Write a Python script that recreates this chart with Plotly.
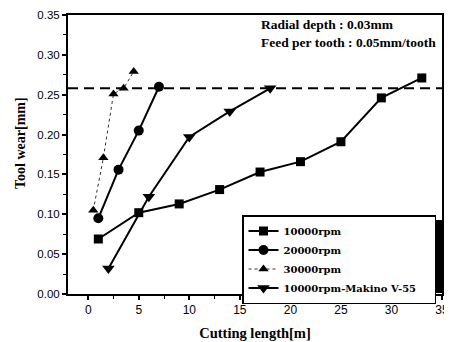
import plotly.graph_objects as go

# ---- data ----
x_10000 = [1, 5, 9, 13, 17, 21, 25, 29, 33]
y_10000 = [0.069, 0.102, 0.113, 0.131, 0.153, 0.166, 0.191, 0.246, 0.271]

x_20000 = [1, 3, 5, 7]
y_20000 = [0.095, 0.156, 0.205, 0.260]

x_30000 = [0.5, 1.5, 2.5, 3.5, 4.5]
y_30000 = [0.105, 0.171, 0.251, 0.258, 0.279]

x_makino = [2, 6, 10, 14, 18]
y_makino = [0.032, 0.122, 0.197, 0.229, 0.258]

wear_limit = 0.258

serif = "Liberation Serif"
wserif = "DejaVu Serif"
sans = "Liberation Sans"

# page body adds an 8px offset; figure is sized so that the plot area
# lands at x 68..442, y 15..294 of the window
OFF = 8
PL, PT, PW, PH = 68, 15, 374, 279


def px(x):
    return (x - PL) / PW


def py(y):
    return (PT + PH - y) / PH


fig = go.Figure()

fig.add_trace(go.Scatter(
    x=x_10000, y=y_10000, mode="lines+markers", name="<b>10000rpm</b>",
    line=dict(color="black", width=2),
    marker=dict(symbol="square", size=9, color="black")))
fig.add_trace(go.Scatter(
    x=x_20000, y=y_20000, mode="lines+markers", name="<b>20000rpm</b>",
    line=dict(color="black", width=2),
    marker=dict(symbol="circle", size=10, color="black")))
fig.add_trace(go.Scatter(
    x=x_30000, y=y_30000, mode="lines+markers", name="<b>30000rpm</b>",
    line=dict(color="#333", width=1, dash="dot"),
    marker=dict(symbol="triangle-up", size=9, color="black")))
fig.add_trace(go.Scatter(
    x=x_makino, y=y_makino, mode="lines+markers",
    name="<b>10000rpm-Makino V-55</b>&nbsp;&nbsp;&nbsp;&nbsp;",
    line=dict(color="black", width=2),
    marker=dict(symbol="triangle-down", size=11, color="black")))

# wear limit dashed line
fig.add_shape(type="line", xref="paper", x0=0, x1=1, yref="y",
              y0=wear_limit, y1=wear_limit,
              line=dict(color="black", width=2, dash="10px,6px"), layer="below")

# legend shadow
fig.add_shape(type="rect", xref="paper", yref="paper",
              x0=px(247), x1=px(442), y0=py(293), y1=py(220),
              fillcolor="black", line=dict(width=0), layer="above")

fig.add_annotation(xref="paper", yref="paper", x=px(259), y=py(34),
                   xanchor="left", yanchor="middle", showarrow=False, align="left",
                   text="<b>Radial depth : 0.03mm</b><br><b>Feed per tooth : 0.05mm/tooth</b>",
                   font=dict(family=serif, size=13.5, color="black"))

fig.add_annotation(xref="paper", yref="paper", x=0, y=py(143),
                   xshift=-48, xanchor="center", yanchor="middle",
                   showarrow=False, textangle=-90,
                   text="<b>Tool wear[mm]</b>",
                   font=dict(family=serif, size=14, color="black"))

fig.update_layout(
    width=452 - OFF, height=342 - OFF,
    margin=dict(l=PL - OFF, r=452 - PL - PW, t=PT - OFF, b=342 - PT - PH,
                autoexpand=False),
    paper_bgcolor="white", plot_bgcolor="white",
    showlegend=True,
    legend=dict(x=px(242), y=py(215),
                xanchor="left", yanchor="top",
                bgcolor="white", bordercolor="black", borderwidth=1.5,
                font=dict(family=wserif, size=10, color="black"),
                tracegroupgap=0, itemwidth=30),
    xaxis=dict(range=[-2, 35], tickvals=[0, 5, 10, 15, 20, 25, 30, 35],
               ticks="outside", ticklen=4, tickwidth=1.5, tickcolor="black",
               showline=True, linecolor="black", linewidth=2, mirror=True,
               showgrid=False, zeroline=False, ticklabeloverflow="allow",
               minor=dict(dtick=2.5, tick0=0, ticks="outside", ticklen=3,
                          tickcolor="black", tickwidth=1),
               tickfont=dict(family=sans, size=12, color="black"),
               title=dict(text="<b>Cutting length[m]</b>", standoff=11,
                          font=dict(family=serif, size=14.5, color="black"))),
    yaxis=dict(range=[0, 0.35], tickvals=[0, 0.05, 0.10, 0.15, 0.20, 0.25, 0.30, 0.35],
               tickformat=".2f", ticklabeloverflow="allow",
               ticks="outside", ticklen=4, tickwidth=1.5, tickcolor="black",
               showline=True, linecolor="black", linewidth=2, mirror=True,
               showgrid=False, zeroline=False,
               minor=dict(dtick=0.025, tick0=0, ticks="outside", ticklen=3,
                          tickcolor="black", tickwidth=1),
               tickfont=dict(family=sans, size=11.5, color="black")),
)

fig.write_html("out.html")
